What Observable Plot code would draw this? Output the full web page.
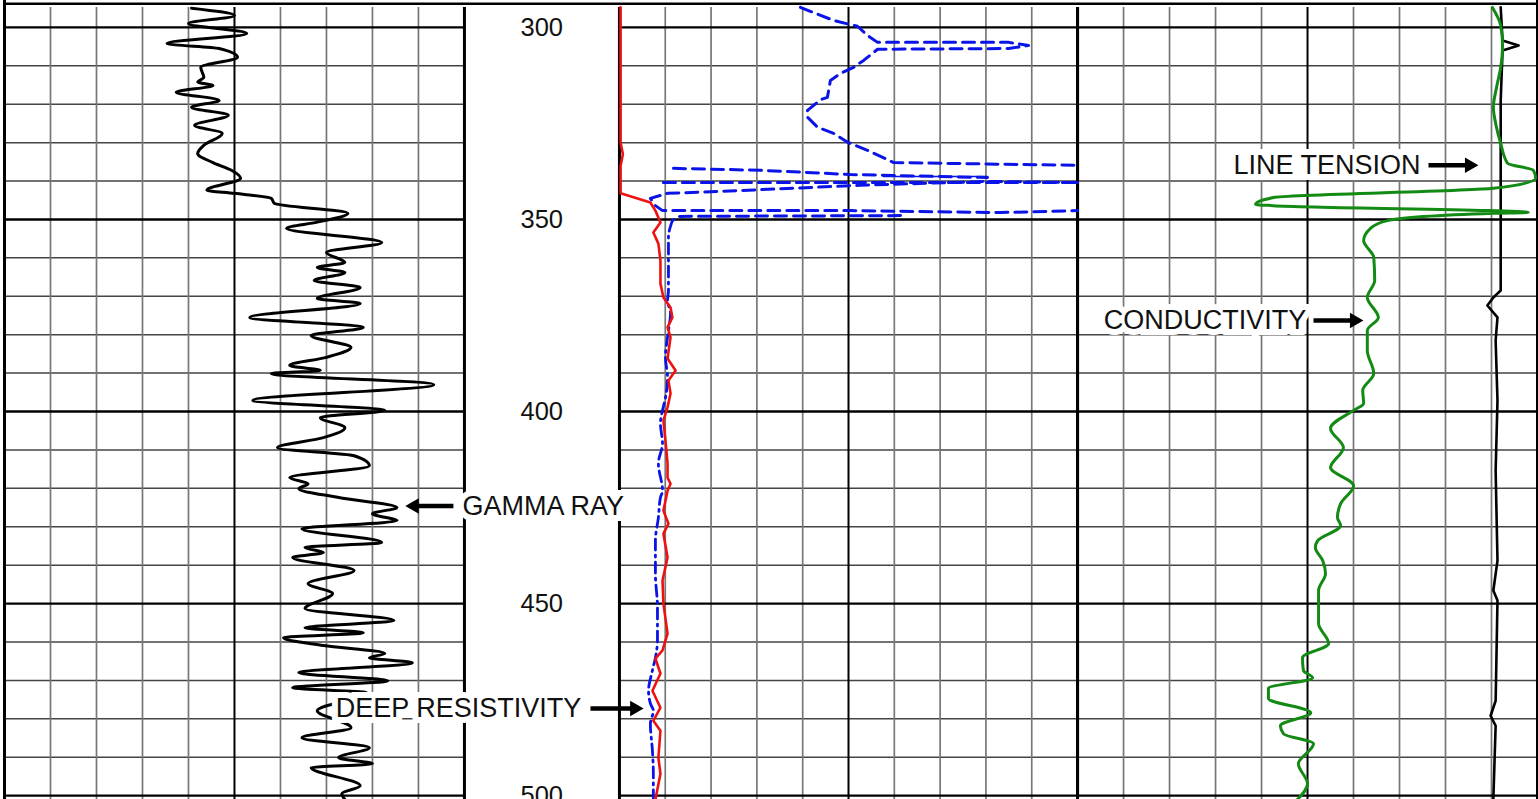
<!DOCTYPE html>
<html><head><meta charset="utf-8">
<script src="https://cdn.jsdelivr.net/npm/d3@7"></script>
<script src="https://cdn.jsdelivr.net/npm/@observablehq/plot@0.6"></script>
<style>html,body{margin:0;padding:0;background:#fff;overflow:hidden}</style>
</head><body><div id="chart"></div>
<script>
// ---- data (depth in ft) ----
const depthLabels = [300, 350, 400, 450, 500];

// Track 1: gamma ray, API (0–150)
const gammaRay = [
[295.0,61],[296.9,75],[299.0,60],[301.6,79],[304.2,53],[305.5,70],[307.8,76],[310.4,64],[313.0,65],[314.3,63],[315.1,68],[316.9,56],[319.0,70],[320.8,61],[322.9,73],[325.5,62],[327.6,71],[330.7,65],[332.8,63],[335.2,68],[337.2,74],[339.3,77],[342.4,66],[343.2,75],[344.5,87],[345.8,88],[348.4,112],[350.7,102],[352.3,92],[356.0,123],[358.6,105],[361.2,111],[362.5,102],[363.8,111],[365.9,101],[367.7,116],[370.6,102],[371.9,116],[375.5,80],[378.1,117],[380.2,100],[383.3,113],[385.9,105],[388.0,93],[389.3,103],[390.1,87],[393.0,140],[397.1,81],[399.7,124],[401.6,103],[404.2,111],[406.8,104],[409.4,89],[411.5,114],[414.1,119],[417.2,93],[418.8,99],[420.1,96],[422.4,109],[425.0,128],[426.6,120],[428.4,128],[430.5,97],[434.1,123],[435.4,98],[436.7,104],[438.0,94],[441.4,114],[444.8,99],[447.4,107],[451.3,98],[454.4,127],[456.3,98],[457.6,117],[458.9,91],[460.9,104],[463.0,124],[464.1,119],[465.4,133],[468.0,96],[470.1,125],[471.9,94],[473.2,118],[477.9,102],[482.3,113],[484.9,97],[487.5,119],[490.1,109],[491.7,120],[492.7,100],[497.4,116],[499.5,110],[501.0,111]
];

// Track 2: resistivity, ohm-m (0–20)
const shallowRes = [
[294.8,0.05],[330,0.05],[333,0.15],[336,0.05],[343.2,0.05],[345.6,1.35],[347.7,1.57],[350.8,1.79],[353.4,1.48],[356.3,1.70],[360.7,1.79],[366.7,1.79],[370.3,1.92],[372.9,2.23],[375.5,2.31],[378.1,2.10],[380.7,2.23],[386.2,2.10],[389.3,2.45],[391.9,2.14],[395.3,2.23],[398.9,2.10],[402.3,1.92],[407.6,2.01],[413.5,2.10],[417.2,2.10],[418.8,2.23],[420.6,2.10],[425.8,1.92],[429.2,2.14],[431.8,1.92],[438.0,2.10],[444.0,1.88],[450.0,1.92],[457.8,2.10],[462.2,1.88],[464.3,1.57],[468.2,1.79],[472.7,1.44],[477.1,1.79],[480.5,1.48],[483.1,1.79],[490.1,1.70],[494.3,1.79],[501.0,1.57]
];
const deepRes = [
[350.3,2.31],[354.7,2.14],[359.9,2.14],[368.5,2.14],[371.1,2.10],[374.5,2.23],[378.9,2.14],[385.9,2.01],[391.1,2.10],[396.4,2.01],[399.7,1.88],[403.1,1.79],[408.3,1.88],[413.5,1.70],[420.6,1.88],[422.4,1.79],[427.6,1.70],[433.6,1.57],[442.2,1.57],[451.0,1.66],[459.6,1.66],[464.1,1.57],[467.4,1.44],[472.7,1.27],[476.0,1.35],[477.9,1.48],[481.3,1.35],[488.3,1.44],[494.3,1.48],[501.0,1.48]
];
// wrapped (dashed) resistivity trace above 350 ft: [depth, ohm-m, segment]
const wrappedRes = [
[294.8,7.90,1],[298.2,9.35,1],[299.7,10.39,1],[302.1,10.83,1],[303.9,11.27,1],[303.9,17.0,1],[304.7,17.86,1],[305.5,17.0,1],[305.7,11.27,1],[308.6,10.66,1],[310.4,10.22,1],[312.0,9.65,1],[313.8,9.21,1],[318.2,9.08,1],[318.8,8.78,1],[321.6,8.21,1],[323.4,8.21,1],[326.0,8.65,1],[327.6,9.35,1],[329.9,9.96,1],[332.0,10.83,1],[335.2,11.97,1],[335.9,20.0,1],
[336.7,2.36,2],[337.2,6.16,2],[338.3,10.09,2],[339.1,16.07,2],
[340.4,20.0,3],[340.1,16.07,3],[341.1,10.52,3],[342.7,4.41,3],[343.2,2.10,3],[344.5,1.35,3],[346.4,1.57,3],[347.7,1.88,3],[347.7,10.09,3],[348.2,16.64,3],[347.7,20.0,3],
[340.4,1.92,4],[340.4,20.0,4],
[349.0,12.27,5],[349.2,2.53,5],[350.3,2.31,5]
];
const wrappedThin = [[338.8,11.53],[338.8,16.07]];

// Track 3: conductivity (0–100) and line tension
const conductivity = [
[294.8,90.2],[299.5,92.0],[304.7,92.4],[310.4,92.0],[315.6,91.1],[320.8,90.4],[325.0,90.9],[330.2,92.0],[335.4,93.5],[337.2,99.1],[339.3,99.6],[341.9,90.4],[344.3,42.6],[346.1,38.7],[346.4,42.6],[348.2,98.0],[348.4,90.4],[350.3,67.4],[352.3,63.7],[355.5,62.2],[359.9,64.4],[365.9,64.6],[370.3,63.0],[375.5,65.4],[378.9,63.0],[384.1,63.0],[390.1,64.4],[394.5,62.0],[397.9,62.2],[399.7,60.0],[404.4,55.0],[409.4,57.8],[414.6,55.0],[419.3,60.0],[424.0,57.2],[427.6,56.5],[429.7,57.2],[433.6,52.2],[435.4,51.7],[438.8,53.3],[442.2,53.9],[446.6,52.4],[450.0,52.4],[455.2,52.4],[460.4,54.6],[464.1,48.9],[467.4,49.1],[469.3,51.1],[472.1,41.5],[474.7,41.5],[478.4,50.7],[481.8,44.1],[483.9,44.8],[486.5,51.3],[491.7,48.0],[496.9,50.0],[501.0,47.8]
];
const lineTension = [
[294.8,92.0],[303.4,92.4],[304.7,95.9],[306.0,92.4],[319.0,92.0],[368.5,92.0],[370.3,90.4],[372.4,89.1],[375.5,91.3],[381.5,90.9],[397.1,91.3],[415.4,90.9],[438.8,91.3],[446.6,90.4],[449.2,91.3],[475.3,90.9],[479.2,89.8],[481.8,90.9],[501.0,90.4]
];

// ---- layout (x in grid divisions) ----
const T1 = 0, T2 = 13.37, T3 = 23.33, END = 33.33;
const tracks = [{start: T1, width: 10}, {start: T2, width: 9.96}, {start: T3, width: 10}];
const gx1 = v => T1 + v / 150 * 10;
const gx2 = v => T2 + v / 20 * 9.96;
const gx3 = v => T3 + v / 100 * 10;
const gridTop = 294.8, frameTop = 293.85, bottom = 501.5;
const depthColX = 11.68;

const annotations = [
  {label: "GAMMA RAY",        x: 9.96,  depth: 424.6, from: 9.76,  tip: 8.72},
  {label: "DEEP RESISTIVITY", x: 7.2,   depth: 477.3, from: 12.74, tip: 13.89},
  {label: "LINE TENSION",     x: 26.72, depth: 335.9, from: 30.96, tip: 32.04},
  {label: "CONDUCTIVITY",     x: 23.9,  depth: 376.3, from: 28.46, tip: 29.54}
];
const headOff = 0.19;

const vLines = tracks.flatMap(t => d3.range(11).map(i => ({x: t.start + i * t.width / 10, i})));
const hLines = tracks.flatMap(t => d3.range(300, 501, 10).map(d => ({d, x1: t.start, x2: t.start + t.width, major: d % 50 === 0})));

const font = "'Liberation Sans', Arial, Helvetica, sans-serif";

const chart = Plot.plot({
  width: 1538, height: 799,
  marginLeft: 4, marginRight: 1, marginTop: 0, marginBottom: 0,
  x: {domain: [0, END], axis: null},
  y: {domain: [293, 501], reverse: true, axis: null},
  style: {background: "white", fontFamily: font},
  marks: [
    Plot.ruleY(hLines.filter(h => !h.major), {y: "d", x1: "x1", x2: "x2", stroke: "#444", strokeWidth: 1.5}),
    Plot.ruleX(vLines.filter(v => v.i % 5 !== 0), {x: "x", y1: gridTop, y2: bottom, stroke: "#777", strokeWidth: 1.7}),
    Plot.ruleY(hLines.filter(h => h.major), {y: "d", x1: "x1", x2: "x2", stroke: "black", strokeWidth: 2.4}),
    Plot.ruleX(vLines.filter(v => v.i === 5), {x: "x", y1: gridTop, y2: bottom, stroke: "black", strokeWidth: 2}),
    Plot.ruleX(vLines.filter(v => v.i % 10 === 0), {x: "x", y1: gridTop, y2: bottom, stroke: "black", strokeWidth: 3}),
    Plot.ruleX([0, END], {x: d => d, y1: 293, y2: bottom, stroke: "black", strokeWidth: 3}),
    Plot.ruleY([frameTop], {y: d => d, x1: 0, x2: END, stroke: "black", strokeWidth: 2.5}),

    // curves
    Plot.line(gammaRay, {x: d => gx1(d[1]), y: d => d[0], stroke: "black", strokeWidth: 3, curve: "monotone-y", strokeLinejoin: "round"}),
    Plot.line(wrappedRes, {x: d => gx2(d[1]), y: d => d[0], z: d => d[2], stroke: "#0a14e6", strokeWidth: 3, strokeDasharray: "12,7"}),
    Plot.line(wrappedThin, {x: d => gx2(d[1]), y: d => d[0], stroke: "#0a14e6", strokeWidth: 1.5}),
    Plot.line(deepRes, {x: d => gx2(d[1]), y: d => d[0], stroke: "#0a14e6", strokeWidth: 2.8, strokeDasharray: "11,5,2,5", curve: "monotone-y"}),
    Plot.line(shallowRes, {x: d => gx2(d[1]), y: d => d[0], stroke: "#ee1111", strokeWidth: 2.6, strokeLinejoin: "round"}),
    Plot.line(lineTension, {x: d => gx3(d[1]), y: d => d[0], stroke: "black", strokeWidth: 2.6}),
    Plot.line(conductivity, {x: d => gx3(d[1]), y: d => d[0], stroke: "#138a13", strokeWidth: 3, curve: "monotone-y", strokeLinejoin: "round"}),

    // depth labels
    Plot.text(depthLabels, {x: () => depthColX, y: d => d, text: d => String(d), fontSize: 25.5, fill: "#111", fontFamily: font}),

    // annotations
    Plot.text(annotations, {x: "x", y: "depth", text: "label", textAnchor: "start", fontSize: 27, fill: "#111",
      stroke: "white", strokeWidth: 12, paintOrder: "stroke", strokeLinejoin: "miter", fontFamily: font}),
    Plot.link(annotations, {x1: "from", x2: d => d.tip + (d.tip < d.from ? headOff : -headOff), y1: "depth", y2: "depth", stroke: "black", strokeWidth: 4.5}),
    Plot.dot(annotations, {x: d => d.tip + (d.tip < d.from ? headOff : -headOff), y: "depth", symbol: "triangle", r: 5.8,
      rotate: d => d.tip < d.from ? -90 : 90, fill: "black", stroke: "none"})
  ]
});
document.getElementById("chart").appendChild(chart);
</script>
</body></html>
